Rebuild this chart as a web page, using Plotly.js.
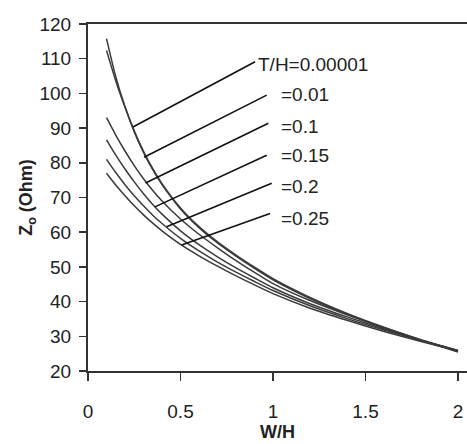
<!DOCTYPE html>
<html>
<head>
<meta charset="utf-8">
<script src="https://cdn.plot.ly/plotly-3.0.1.min.js"></script>
<style>html,body{margin:0;padding:0;background:#fff;}#chart{width:467px;height:444px;}</style>
</head>
<body>
<div id="chart"></div>
<script>
// W/H values
const wh = [0.1, 0.15, 0.2, 0.25, 0.3, 0.35, 0.4, 0.5, 0.6, 0.7, 0.8, 0.9, 1.0, 1.2, 1.4, 1.6, 1.8, 2.0];
// Z0 (Ohm) for each T/H
const z_00001 = [115.8, 104.8, 96.2, 89.2, 83.3, 78.3, 74.0, 67.0, 61.6, 57.2, 53.4, 49.9, 46.6, 41.2, 36.6, 32.6, 28.9, 25.6];
const z_001   = [112.4, 103.6, 96.0, 88.9, 83.0, 78.0, 73.7, 66.7, 61.3, 56.9, 53.1, 49.6, 46.3, 40.9, 36.4, 32.4, 28.8, 25.5];
const z_01    = [93.0, 88.0, 83.4, 79.2, 75.4, 72.0, 69.0, 63.8, 59.4, 55.5, 51.8, 48.4, 45.2, 40.3, 36.2, 32.5, 29.0, 25.8];
const z_015   = [86.6, 82.2, 78.2, 74.5, 71.1, 68.0, 65.2, 60.4, 56.4, 52.9, 49.7, 46.8, 44.0, 39.4, 35.6, 32.1, 28.9, 25.9];
const z_02    = [81.0, 77.2, 73.7, 70.5, 67.6, 64.9, 62.5, 58.2, 54.6, 51.4, 48.5, 45.8, 43.2, 38.8, 35.1, 31.8, 28.8, 25.9];
const z_025   = [77.0, 73.6, 70.5, 67.6, 65.0, 62.6, 60.4, 56.5, 53.2, 50.2, 47.4, 44.8, 42.3, 38.1, 34.6, 31.4, 28.5, 25.8];

const seriesNames = ["T/H=0.00001", "T/H=0.01", "T/H=0.1", "T/H=0.15", "T/H=0.2", "T/H=0.25"];
const seriesValues = [z_00001, z_001, z_01, z_015, z_02, z_025];

// callout labels
const labelTexts = ["T/H=0.00001", "=0.01", "=0.1", "=0.15", "=0.2", "=0.25"];
const labelX = [0.908, 1.032, 1.032, 1.032, 1.032, 1.032];
const labelY = [108.2, 99.7, 90.6, 82.0, 73.1, 64.0];
// leader lines: start (near label) and end (on curve)
const leadStartX = [0.903, 0.966, 0.975, 0.966, 0.993, 0.984];
const leadStartY = [109.1, 99.5, 91.4, 82.2, 74.1, 65.4];
const leadEndX = [0.243, 0.303, 0.311, 0.362, 0.425, 0.506];
const leadEndY = [90.3, 81.6, 74.2, 67.3, 61.6, 56.3];

const xTicks = [0, 0.5, 1, 1.5, 2];
const xTickText = ["0", "0.5", "1", "1.5", "2"];
const yTicks = [20, 30, 40, 50, 60, 70, 80, 90, 100, 110, 120];

const FONT = "'Liberation Sans', Arial, Helvetica, sans-serif";
const INK = "#222";
const FS = 19;

const traces = seriesValues.map((v, i) => ({
  x: wh, y: v, name: seriesNames[i], type: "scatter", mode: "lines",
  line: {color: "#3a3a3a", width: 1.5, shape: "spline", smoothing: 0.6},
  showlegend: false, hoverinfo: "skip"
}));

const shapes = leadStartX.map((sx, i) => ({
  type: "line", xref: "x", yref: "y",
  x0: sx, y0: leadStartY[i], x1: leadEndX[i], y1: leadEndY[i],
  line: {color: "#111", width: 1.6}
}));

const annotations = labelTexts.map((t, i) => ({
  text: t, x: labelX[i], y: labelY[i], xref: "x", yref: "y",
  xanchor: "left", yanchor: "middle", showarrow: false,
  font: {family: FONT, size: FS, color: INK}
}));

const layout = {
  width: 467, height: 444,
  margin: {l: 88, r: 0, t: 24, b: 73, pad: 0},
  paper_bgcolor: "#fff", plot_bgcolor: "#fff",
  font: {family: FONT, size: FS, color: INK},
  showlegend: false,
  xaxis: {
    range: [0, 2.0486], tickvals: xTicks, ticktext: xTickText,
    showgrid: false, zeroline: false,
    showline: true, mirror: true, linecolor: "#333", linewidth: 2,
    ticks: "outside", ticklen: 8, tickwidth: 1.5, tickcolor: "#333",
    ticklabelstandoff: 14,
    tickfont: {family: FONT, size: FS, color: INK},
    title: {text: "<b>W/H</b>", font: {family: FONT, size: 18, color: INK}, standoff: 0}
  },
  yaxis: {
    range: [20, 120], tickvals: yTicks,
    showgrid: false, zeroline: false,
    showline: true, linecolor: "#333", linewidth: 2,
    ticks: "outside", ticklen: 7, tickwidth: 1.5, tickcolor: "#333",
    ticklabelstandoff: 4,
    tickfont: {family: FONT, size: FS, color: INK},
    title: {text: "<b>Z<sub>o</sub> (Ohm)</b>", font: {family: FONT, size: 18, color: INK}, standoff: 2}
  },
  shapes: shapes,
  annotations: annotations
};

Plotly.newPlot("chart", traces, layout, {displayModeBar: false, staticPlot: true});
</script>
</body>
</html>
